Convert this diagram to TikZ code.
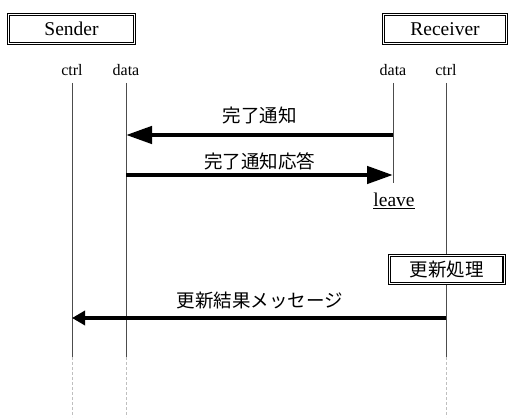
\documentclass[tikz,border=0pt]{standalone}
\usepackage{fontspec}
\setmainfont{Liberation Serif}
\newfontfamily\jpfont{Noto Sans CJK JP}
\usetikzlibrary{arrows.meta}
\begin{document}
\begin{tikzpicture}[x=1pt,y=-1pt,
  actorbox/.style={draw, double=white, double distance=1pt, line width=1.2pt,
    inner sep=0pt, font=\fontsize{19.5}{20}\selectfont},
  procbox/.style={draw, fill=white, double=white, double distance=1pt, line width=1.2pt,
    inner sep=0pt, font=\jpfont\fontsize{18.5}{20}\selectfont},
  lanelabel/.style={anchor=base, inner sep=0pt, font=\fontsize{16}{18}\selectfont},
  msglabel/.style={anchor=base, inner sep=0pt, font=\jpfont\fontsize{18.5}{20}\selectfont},
  lifeline/.style={draw=black!70, line width=0.9pt},
  lifetail/.style={draw=black!25, line width=0.6pt, dash pattern=on 3pt off 2pt},
  bigmsg/.style={line width=4.5pt, -{Triangle[length=26pt,width=17pt]}},
  smallmsg/.style={line width=4pt, -{Triangle[length=13pt,width=14pt]}}
]
\useasboundingbox (0,0) rectangle (508,419);

% participants
\node[actorbox, minimum width=125.6pt, minimum height=29.5pt] (sender) at (71.5,29) {Sender};
\node[actorbox, minimum width=122.6pt, minimum height=29.5pt] (receiver) at (445,29) {Receiver};

% lane labels
\node[lanelabel] (sctrl) at (72,76) {ctrl};
\node[lanelabel] (sdata) at (126,76) {data};
\node[lanelabel] (rdata) at (393,76) {data};
\node[lanelabel] (rctrl) at (446,76) {ctrl};

% lifelines that run to the end, with a faint dashed tail
\foreach \n/\x in {sc/72, sd/126, rc/446} {
  \coordinate (\n top) at (\x,83);
  \coordinate (\n mid) at (\x,357);
  \coordinate (\n end) at (\x,417);
  \draw[lifeline] (\n top) -- (\n mid);
  \draw[lifetail] (\n mid) -- (\n end);
}
% the receiver data lane ends when it leaves
\coordinate (rdtop) at (393,83);
\coordinate (rdend) at (393,183);
\draw[lifeline] (rdtop) -- (rdend);

% messages on the data lanes
\coordinate (m1a) at (393,135);
\coordinate (m1b) at (126,135);
\draw[bigmsg] (m1a) -- (m1b);
\node[msglabel] (l1) at (259.5,123) {完了通知};

\coordinate (m2a) at (126,175);
\coordinate (m2b) at (393,175);
\draw[bigmsg] (m2a) -- (m2b);
\node[msglabel] (l2) at (259.5,169) {完了通知応答};

\node[anchor=base, inner sep=0pt, font=\fontsize{19.5}{20}\selectfont] (leave) at (394,207) {\underline{leave}};

% update processing on the receiver control lane
\node[procbox, minimum width=114.6pt, minimum height=27.8pt] (proc) at (446.8,269.5) {更新処理};

\coordinate (m3a) at (446,318);
\coordinate (m3b) at (72,318);
\draw[smallmsg] (m3a) -- (m3b);
\node[msglabel] (l3) at (260,307) {更新結果メッセージ};
\end{tikzpicture}
\end{document}
